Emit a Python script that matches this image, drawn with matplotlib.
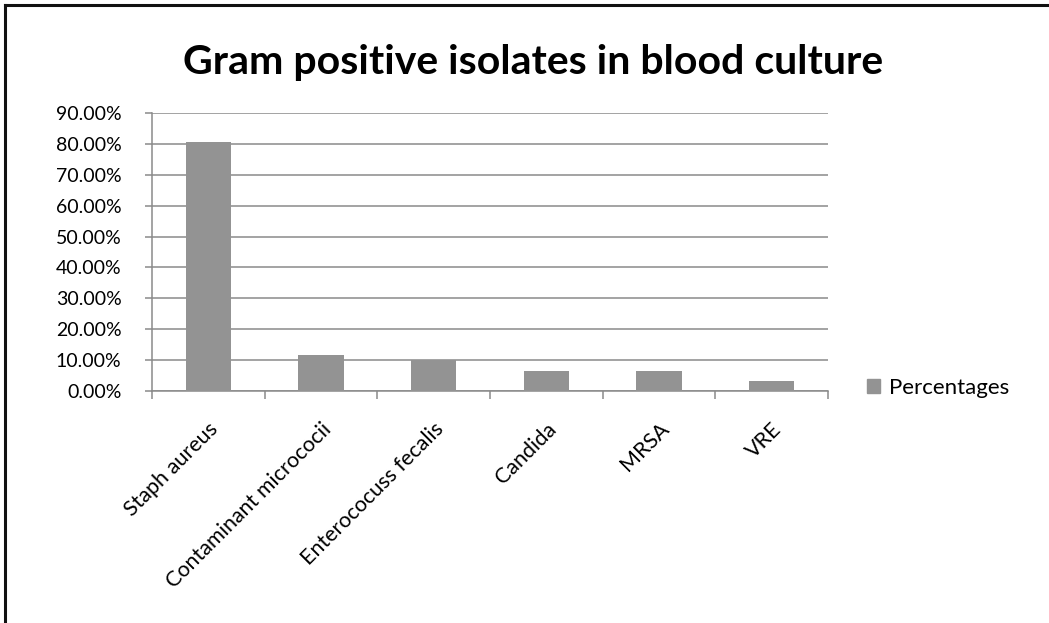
import matplotlib.pyplot as plt
from matplotlib.ticker import FuncFormatter, FixedLocator
from matplotlib.patches import Patch
from matplotlib.lines import Line2D

plt.rc('font', family=['Lato', 'DejaVu Sans'])

categories = ['Staph aureus', 'Contaminant micrococii', 'Enterococuss fecalis', 'Candida', 'MRSA', 'VRE']
percentages = [80.6, 11.5, 9.9, 6.4, 6.6, 3.2]
y_ticks = [0, 10, 20, 30, 40, 50, 60, 70, 80, 90]

BAR_COLOR = '#939393'
GRID_COLOR = '#8a8a8a'

fig = plt.figure(figsize=(10.49, 6.23), dpi=100)
fig.set_facecolor('white')
ax = fig.add_axes([0.1449, 0.3724, 0.6444, 0.4462])

x = list(range(len(categories)))
ax.bar(x, percentages, width=0.4, color=BAR_COLOR, zorder=3)

ax.set_xlim(-0.5, len(categories) - 0.5)
ax.set_ylim(0, 90)
ax.set_yticks(y_ticks)
ax.yaxis.set_major_formatter(FuncFormatter(lambda v, p: f"{v:.2f}%"))
ax.grid(axis='y', color=GRID_COLOR, linewidth=1.1, zorder=0)

ax.set_xticks(x)
ax.set_xticklabels(categories, rotation=45, ha='right', rotation_mode='anchor')
ax.xaxis.set_minor_locator(FixedLocator([i - 0.5 for i in range(len(categories) + 1)]))
ax.tick_params(axis='x', which='major', length=0, pad=20, labelsize=15.5)
ax.tick_params(axis='x', which='minor', length=6, color=GRID_COLOR, width=1.1)
ax.tick_params(axis='y', length=5, color=GRID_COLOR, width=1.1, labelsize=14, pad=17)

for s in ['top', 'right']:
    ax.spines[s].set_visible(False)
for s in ['left', 'bottom']:
    ax.spines[s].set_color(GRID_COLOR)
    ax.spines[s].set_linewidth(1.1)

fig.text(0.508, 0.9, 'Gram positive isolates in blood culture', ha='center', va='center',
         fontsize=29.5, fontweight='bold')

fig.legend(handles=[Patch(color=BAR_COLOR)], labels=['Percentages'], loc='center left',
           bbox_to_anchor=(0.8075, 0.378), frameon=False, fontsize=16, handlelength=0.6,
           handleheight=0.6, handletextpad=0.4)

# frame of the slide (left and top edges only)
fig.add_artist(Line2D([0.0045, 0.0045], [0, 0.992], color='#111111', linewidth=2.2, transform=fig.transFigure))
fig.add_artist(Line2D([0.0045, 1], [0.992, 0.992], color='#111111', linewidth=2.2, transform=fig.transFigure))

fig.savefig('out.png', dpi=100, facecolor='white')
